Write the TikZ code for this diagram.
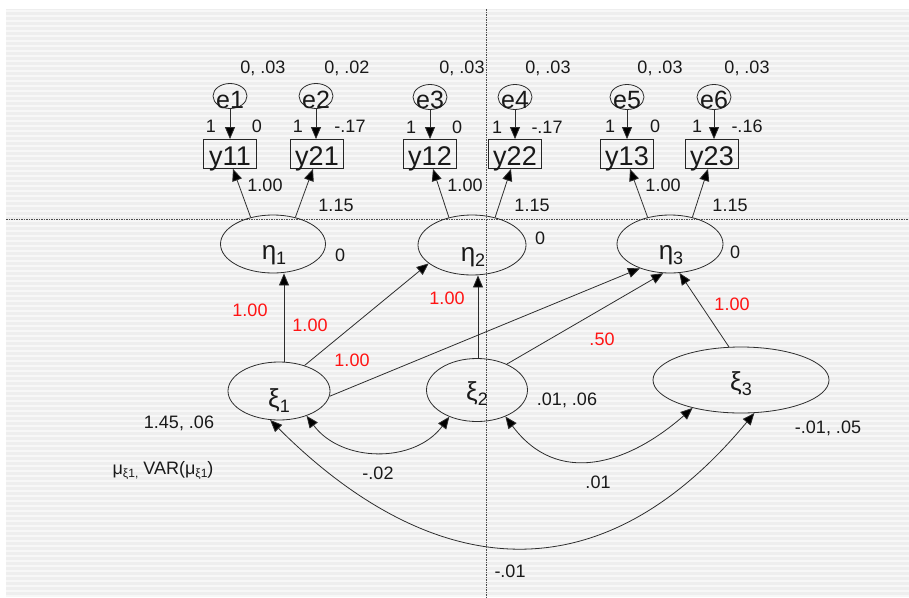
\documentclass[tikz,border=0pt]{standalone}
\usepackage{fontspec}
\setmainfont{Liberation Sans}
\usetikzlibrary{arrows.meta,shapes.geometric}
\definecolor{bggray}{RGB}{238,238,238}
\definecolor{bgstripe}{RGB}{247,247,247}
\definecolor{linegray}{RGB}{45,45,45}
\definecolor{pathred}{RGB}{255,20,20}
\newcommand{\gsub}[2]{{\fontsize{26}{26}\selectfont #1}{\fontsize{18}{18}\selectfont\raisebox{-5pt}{#2}}}
\newcommand{\musub}[1]{\raisebox{-3pt}{\fontsize{12}{12}\selectfont #1}}
\begin{document}
\begin{tikzpicture}[x=1pt,y=-1pt,
  every node/.style={text=black!90},
  lat/.style={ellipse,draw=linegray,line width=0.8pt,inner sep=0pt},
  err/.style={ellipse,draw=linegray,line width=0.8pt,inner sep=0pt,minimum width=34pt,minimum height=25pt},
  obs/.style={rectangle,draw=black!85,line width=0.8pt,inner sep=0pt,minimum width=53pt,minimum height=29pt,font=\fontsize{27}{27}\selectfont,text height=23pt,text depth=0pt},
  tip/.tip={Triangle[length=12pt,width=10pt,fill=black]},
  pth/.style={draw=linegray,line width=0.8pt,-tip},
  cov/.style={draw=linegray,line width=0.8pt,tip-tip},
  num/.style={font=\fontsize{18}{18}\selectfont,inner sep=0pt},
  rnum/.style={num,text=pathred},
  glab/.style={anchor=base,inner sep=0pt},
  elab/.style={anchor=base,inner sep=0pt,font=\fontsize{25}{25}\selectfont},
  guide/.style={draw=black!70,line width=0.7pt,dash pattern=on 1.5pt off 1pt}
]
\useasboundingbox (0,0) rectangle (909,597);
% background
\fill[bggray] (6,9) rectangle (909,597);
\foreach \yy in {11,16,...,596} \draw[bgstripe,line width=1.6pt] (6,\yy) -- (909,\yy);
\draw[guide] (486,9) -- (486,597);
\draw[guide] (6,219) -- (909,219);

% error terms
\node[err] (e1) at (230,96) {};
\node[err] (e2) at (316,96) {};
\node[err] (e3) at (430,97) {};
\node[err] (e4) at (515,97) {};
\node[err] (e5) at (627,97) {};
\node[err] (e6) at (714,97) {};
\node[elab] (e1t) at (230,108) {e1};
\node[elab] (e2t) at (316,108) {e2};
\node[elab] (e3t) at (430,108) {e3};
\node[elab] (e4t) at (515,108) {e4};
\node[elab] (e5t) at (627,108) {e5};
\node[elab] (e6t) at (714,108) {e6};

% observed
\node[obs] (y11) at (230,154) {y11};
\node[obs] (y21) at (317,154) {y21};
\node[obs] (y12) at (430,154) {y12};
\node[obs] (y22) at (515,154) {y22};
\node[obs] (y13) at (627,154) {y13};
\node[obs] (y23) at (712,154) {y23};

% latent eta
\node[lat,minimum width=105pt,minimum height=58pt] (eta1) at (273,244) {};
\node[lat,minimum width=108pt,minimum height=60pt] (eta2) at (472,245) {};
\node[lat,minimum width=106pt,minimum height=58pt] (eta3) at (670,244) {};
\node[glab] (eta1t) at (274,259) {\gsub{η}{1}};
\node[glab] (eta2t) at (473,261) {\gsub{η}{2}};
\node[glab] (eta3t) at (671,259) {\gsub{η}{3}};

% latent xi
\node[lat,minimum width=102pt,minimum height=58pt] (xi1) at (279,391) {};
\node[lat,minimum width=101pt,minimum height=63pt] (xi2) at (477,390) {};
\node[lat,minimum width=176pt,minimum height=66pt] (xi3) at (741,380) {};
\node[glab] (xi1t) at (279,407) {\gsub{ξ}{1}};
\node[glab] (xi2t) at (477,400) {\gsub{ξ}{2}};
\node[glab] (xi3t) at (741,390) {\gsub{ξ}{3}};

% e -> y
\foreach \e/\y in {e1/y11,e2/y21,e3/y12,e4/y22,e5/y13,e6/y23}
  \draw[pth] (\e.south) -- (\e.south |- \y.north);

% eta -> y
\draw[pth] (eta1.130) -- ([xshift=3pt]y11.south);
\draw[pth] (eta1.50) -- ([xshift=-4pt]y21.south);
\draw[pth] (eta2.130) -- ([xshift=3pt]y12.south);
\draw[pth] (eta2.50) -- ([xshift=-4pt]y22.south);
\draw[pth] (eta3.130) -- ([xshift=3pt]y13.south);
\draw[pth] (eta3.50) -- ([xshift=-4pt]y23.south);

% structural paths
\draw[pth] ([xshift=5pt]xi1.north) -- ([xshift=5pt]xi1.north |- eta1.south);
\draw[pth] (xi1.45) -- (eta2.-157);
\draw[pth] (xi1.-6) -- (eta3.-141);
\draw[pth] ([xshift=1pt]xi2.north) -- ([xshift=1pt]xi2.north |- eta2.south);
\draw[pth] (xi2.41) -- (eta3.-103);
\draw[pth] (xi3.110) -- (eta3.-72);

% covariances
\draw[cov] (xi1.-42) .. controls +(35,47) and +(-35,47) .. (xi2.-136);
\draw[cov] (xi2.-43) .. controls +(52,70) and +(-65,57) .. (xi3.-150);
\draw[cov] (xi1.-107) .. controls +(148,148) and +(-165,199) .. (xi3.-68);

% variance labels of errors
\node[num] (v1) at (263,68) {0, .03};
\node[num] (v2) at (347,68) {0, .02};
\node[num] (v3) at (462,68) {0, .03};
\node[num] (v4) at (548,68) {0, .03};
\node[num] (v5) at (660,68) {0, .03};
\node[num] (v6) at (747,68) {0, .03};

% e->y weights and intercepts
\node[num] (w1) at (211,126) {1};
\node[num] (i1) at (257,126) {0};
\node[num] (w2) at (298,126) {1};
\node[num] (i2) at (350,126) {-.17};
\node[num] (w3) at (411,127) {1};
\node[num] (i3) at (457,127) {0};
\node[num] (w4) at (497,127) {1};
\node[num] (i4) at (547,127) {-.17};
\node[num] (w5) at (610,126) {1};
\node[num] (i5) at (655,126) {0};
\node[num] (w6) at (697,126) {1};
\node[num] (i6) at (747,126) {-.16};

% loadings
\node[num] (l11) at (265,185) {1.00};
\node[num] (l21) at (336,205) {1.15};
\node[num] (l12) at (465,185) {1.00};
\node[num] (l22) at (532,205) {1.15};
\node[num] (l13) at (663,185) {1.00};
\node[num] (l23) at (730,205) {1.15};

% eta intercepts
\node[num] (m1) at (340,255) {0};
\node[num] (m2) at (540,238) {0};
\node[num] (m3) at (735,252) {0};

% structural coefficients
\node[rnum] (b1) at (250,310) {1.00};
\node[rnum] (b2) at (310,325) {1.00};
\node[rnum] (b3) at (352,360) {1.00};
\node[rnum] (b4) at (447,298) {1.00};
\node[rnum] (b5) at (602,339) {.50};
\node[rnum] (b6) at (732,304) {1.00};

% xi means / variances
\node[num] (x1) at (179,423) {1.45, .06};
\node[num] (x2) at (567,400) {.01, .06};
\node[num] (x3) at (828,428) {-.01, .05};
\node[num] (leg) at (163,471) {μ\musub{ξ1,} VAR(μ\musub{ξ1})};

% covariances labels
\node[num] (c12) at (378,473) {-.02};
\node[num] (c23) at (598,482) {.01};
\node[num] (c13) at (510,571) {-.01};
\end{tikzpicture}
\end{document}
